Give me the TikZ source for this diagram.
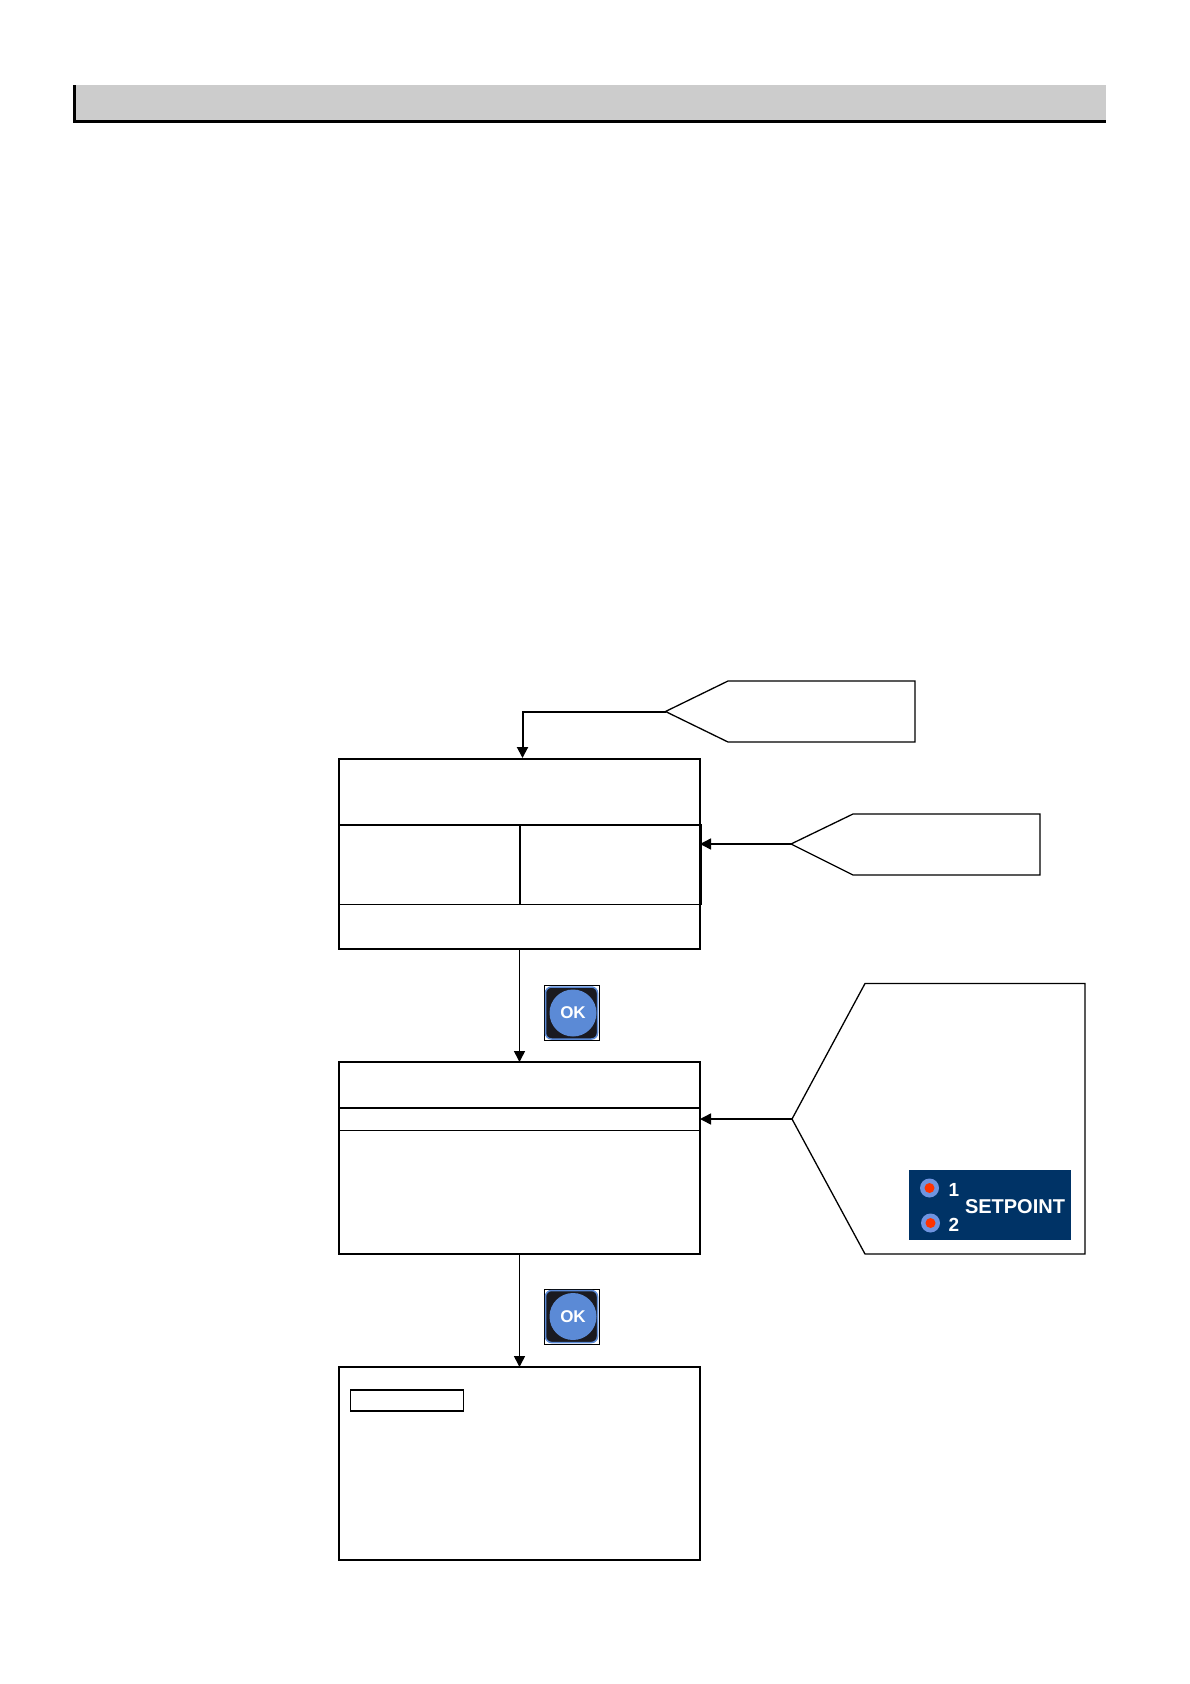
\documentclass[tikz,border=0pt]{standalone}
\usepackage{fontspec}
\setmainfont{Liberation Sans}
\usetikzlibrary{arrows.meta}

\definecolor{headgray}{HTML}{CCCCCC}
\definecolor{panelblue}{HTML}{003366}
\definecolor{okblue}{HTML}{5B8AD6}
\definecolor{okdark}{HTML}{1A1A20}
\definecolor{ledblue}{HTML}{6F94E0}
\definecolor{ledred}{HTML}{FF3300}

\tikzset{
  screen/.style={draw, line width=1.5pt, inner sep=0pt, outer sep=0pt},
  callout/.style={draw, line width=1.3pt, line join=miter},
  flow/.style={-{Triangle[length=11pt,width=11pt]}, line width=1.5pt},
  paneltext/.style={text=white, inner sep=0pt},
  led/.style={circle, fill=ledblue, minimum size=19pt, inner sep=0pt},
  leddot/.style={circle, fill=ledred, minimum size=10pt, inner sep=0pt}
}

\begin{document}
\begin{tikzpicture}[x=1pt, y=-1pt]
    \useasboundingbox (0,0) rectangle (1190,1684);

    % 1. Title bar at the top of the page
    \fill[headgray] (76,85) rectangle (1106,120);
    \fill[black] (73,85) rectangle (76,123);
    \fill[black] (73,120) rectangle (1106,123);

    % 2. Screens, one under the other
    \node[screen, minimum width=361pt, minimum height=190pt] (boxA) at (519.5,854) {};
    \node[screen, minimum width=181pt, minimum height=79.5pt] (cellLeft) at (429.5,864.5) {};
    \node[screen, minimum width=181pt, minimum height=79.5pt] (cellRight) at (610.5,864.5) {};

    \node[screen, minimum width=361pt, minimum height=192pt] (boxB) at (519.5,1158) {};
    \node[screen, minimum width=361pt, minimum height=22.5pt] (bandB) at (519.5,1119) {};

    \node[screen, minimum width=361pt, minimum height=193pt] (boxC) at (519.5,1463.5) {};
    \node[screen, line width=1.1pt, minimum width=113.5pt, minimum height=21pt] (fieldC) at (407,1400.5) {};

    % 3. Callouts, each with its tip as a coordinate
    \coordinate (tipA) at (665.5,711.5);
    \coordinate (tipB) at (791,844);
    \coordinate (tipC) at (792,1119);
    \draw[callout] (tipA) -- (728,681) -- (915,681) -- (915,742) -- (728,742) -- cycle;
    \draw[callout] (tipB) -- (853,814) -- (1040,814) -- (1040,875) -- (853,875) -- cycle;
    \draw[callout] (tipC) -- (865,983.5) -- (1085,983.5) -- (1085,1254) -- (865,1254) -- cycle;

    % 4. Connectors
    \coordinate (inA) at (522.5,758);
    \draw[flow, line width=2pt] (tipA) -| (inA);
    \draw[flow] (tipB) -- (tipB -| boxA.east);
    \draw[flow] (tipC) -- (bandB.east);
    \draw[flow] (boxA.south) -- (boxB.north);
    \draw[flow] (boxB.south) -- (boxC.north);

    % 5. OK keys beside the downward connectors
    \foreach \name/\ypos in {okA/1013, okB/1316.5} {
        \node[draw, line width=1pt, fill=white, minimum size=55pt, inner sep=0pt] (\name frame) at (571.5,\ypos) {};
        \node[draw=okblue, line width=1.5pt, fill=okdark, rounded corners=6pt, minimum size=52pt, inner sep=0pt] (\name pad) at (571.5,\ypos) {};
        \node[circle, fill=okblue, minimum size=47pt, inner sep=0pt, text=white, font=\fontsize{17pt}{17pt}\selectfont\bfseries] (\name) at (573,\ypos) {OK};
    }

    % 6. Setpoint panel inside the large callout
    \node[fill=panelblue, minimum width=162pt, minimum height=70pt, inner sep=0pt] (panel) at (990,1205) {};
    \node[led] (ledOne) at (929.5,1188) {};
    \node[leddot] at (ledOne) {};
    \node[led] (ledTwo) at (930.5,1223) {};
    \node[leddot] at (ledTwo) {};
    \node[paneltext, font=\fontsize{19pt}{19pt}\selectfont\bfseries] (numOne) at (954,1189.5) {1};
    \node[paneltext, font=\fontsize{19pt}{19pt}\selectfont\bfseries] (numTwo) at (954,1224.5) {2};
    \node[paneltext, font=\fontsize{20pt}{20pt}\selectfont\bfseries] (setpoint) at (1015,1207) {SETPOINT};

\end{tikzpicture}
\end{document}
